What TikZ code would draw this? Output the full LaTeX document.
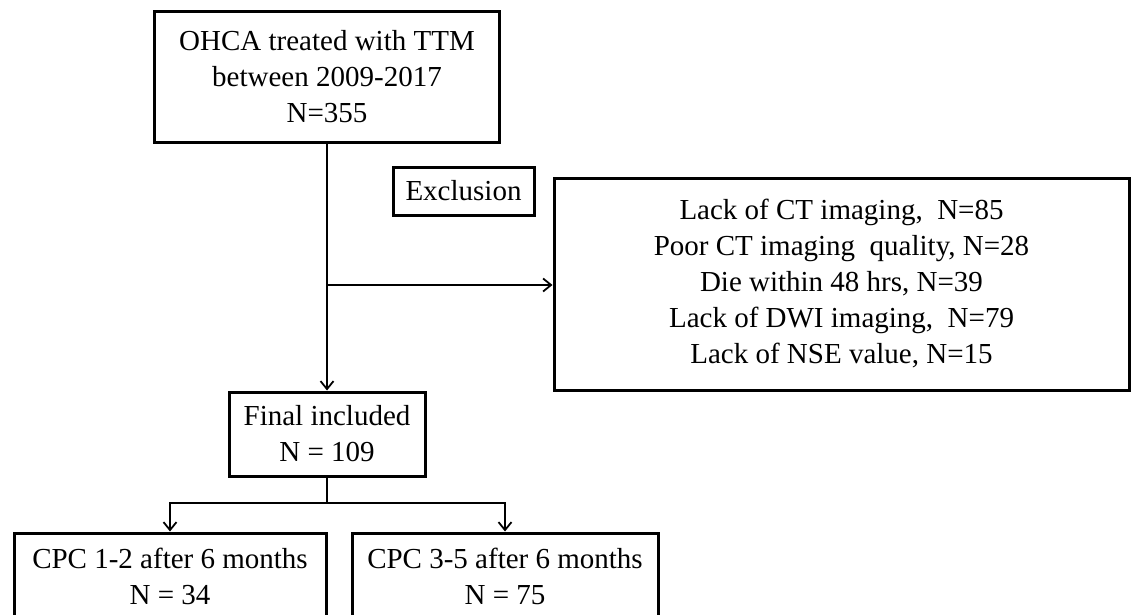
\documentclass[tikz,border=0pt]{standalone}
\usepackage{fontspec}
\setmainfont{Liberation Serif}
\usetikzlibrary{arrows.meta}
\begin{document}
\begin{tikzpicture}[x=1pt,y=-1pt,
  box/.style={draw, line width=3pt, align=center, inner sep=0pt,
    font=\fontsize{29}{36}\selectfont},
  conn/.style={line width=1.8pt, -{Straight Barb[length=8pt,width=13pt,line width=1.8pt]}},
  plain/.style={line width=1.8pt}]
\useasboundingbox (0,0) rectangle (1134,615);
\clip (0,0) rectangle (1134,615);
\node[box, minimum width=345pt, minimum height=130pt] (top) at (327,77)
  {OHCA treated with TTM\\between 2009-2017\\N=355};
\node[box, minimum width=141pt, minimum height=48pt] (excl) at (463.5,191) {Exclusion};
\node[box, minimum width=575pt, minimum height=212pt] (reasons) at (841.5,284)
  {Lack of CT imaging,\ \ N=85\\Poor CT imaging\ \ quality, N=28\\Die within 48 hrs, N=39\\Lack of DWI imaging,\ \ N=79\\Lack of NSE value, N=15};
\node[box, minimum width=196pt, minimum height=84pt] (final) at (327,434)
  {Final included\\N = 109};
\node[box, minimum width=312pt, minimum height=87pt] (cpc12) at (170,576.5)
  {CPC 1-2 after 6 months\\N = 34};
\node[box, minimum width=306pt, minimum height=87pt] (cpc35) at (505,576.5)
  {CPC 3-5 after 6 months\\N = 75};
\coordinate (j) at (327,285);
\coordinate (k) at (327,503);
\draw[conn] (top.south) -- (final.north);
\draw[conn] (j) -- (j -| reasons.west);
\draw[plain] (final.south) -- (k);
\draw[conn] (k) -| (cpc12.north);
\draw[conn] (k) -| (cpc35.north);
\end{tikzpicture}
\end{document}
